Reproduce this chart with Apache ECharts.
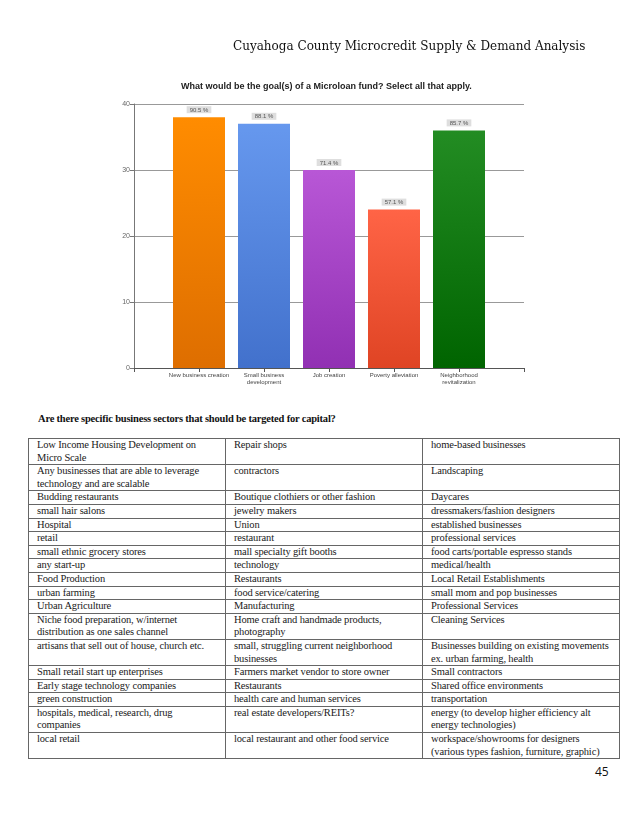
<!DOCTYPE html>
<html>
<head>
<meta charset="utf-8">
<script src="https://cdn.jsdelivr.net/npm/echarts@6/dist/echarts.min.js"></script>
<style>
  html, body { margin: 0; padding: 0; background: #fff; }
  body { width: 638px; height: 826px; position: relative; overflow: hidden; }
  #header { position: absolute; z-index: 5; left: 233px; top: 39px; font-family: 'DejaVu Serif', serif; font-size: 12px; color: #111; white-space: nowrap; }
  #chart { position: absolute; z-index: 1; left: 0; top: 0; width: 638px; height: 400px; }
  #question { position: absolute; z-index: 5; left: 38px; top: 413px; font-family: 'Liberation Serif', serif; font-weight: bold; font-size: 10.5px; letter-spacing: -0.2px; color: #111; white-space: nowrap; }
  #tbl { position: absolute; z-index: 5; left: 28px; top: 438px; width: 591px; border-collapse: collapse; table-layout: fixed;
         font-family: 'Liberation Serif', serif; font-size: 10.5px; letter-spacing: -0.15px; line-height: 12.6px; color: #1a1a1a; }
  #tbl td { border: 1px solid #666; padding: 0 0 0 8px; vertical-align: top; white-space: nowrap; overflow: hidden; }
  #page { position: absolute; z-index: 5; left: 595px; top: 763px; font-family: 'Open Sans', 'Liberation Sans', sans-serif; font-size: 12px; color: #111; }
</style>
</head>
<body>
<div id="chart"></div>
<div id="header">Cuyahoga County Microcredit Supply &amp; Demand Analysis</div>
<div id="question">Are there specific business sectors that should be targeted for capital?</div>
<table id="tbl"><colgroup><col style="width:197px"><col style="width:197px"><col style="width:197px"></colgroup></table>
<div id="page">45</div>
<script>
// ---- chart data ----
const chartTitle = 'What would be the goal(s) of a Microloan fund? Select all that apply.';
const categories = ['New business creation', 'Small business\ndevelopment', 'Job creation', 'Poverty alleviation', 'Neighborhood\nrevitalization'];
const counts = [38, 37, 30, 24, 36];
const percentLabels = ['90.5 %', '88.1 %', '71.4 %', '57.1 %', '85.7 %'];
const yTicks = [0, 10, 20, 30, 40];

// ---- table data ----
const column1 = ['Low Income Housing Development on\nMicro Scale', 'Any businesses that are able to leverage\ntechnology and are scalable', 'Budding restaurants', 'small hair salons', 'Hospital', 'retail', 'small ethnic grocery stores', 'any start-up', 'Food Production', 'urban farming', 'Urban Agriculture', 'Niche food preparation, w/internet\ndistribution as one sales channel', 'artisans that sell out of house, church etc.', 'Small retail start up enterprises', 'Early stage technology companies', 'green construction', 'hospitals, medical, research, drug\ncompanies', 'local retail'];
const column2 = ['Repair shops', 'contractors', 'Boutique clothiers or other fashion', 'jewelry makers', 'Union', 'restaurant', 'mall specialty gift booths', 'technology', 'Restaurants', 'food service/catering', 'Manufacturing', 'Home craft and handmade products,\nphotography', 'small, struggling current neighborhood\nbusinesses', 'Farmers market vendor to store owner', 'Restaurants', 'health care and human services', 'real estate developers/REITs?', 'local restaurant and other food service'];
const column3 = ['home-based businesses', 'Landscaping', 'Daycares', 'dressmakers/fashion designers', 'established businesses', 'professional services', 'food carts/portable espresso stands', 'medical/health', 'Local Retail Establishments', 'small mom and pop businesses', 'Professional Services', 'Cleaning Services', 'Businesses building on existing movements\nex. urban farming, health', 'Small contractors', 'Shared office environments', 'transportation', 'energy (to develop higher efficiency alt\nenergy technologies)', 'workspace/showrooms for designers\n(various types fashion, furniture, graphic)'];

// build table
const tbl = document.getElementById('tbl');
function esc(s) { return s.replace(/&/g, '&amp;').replace(/</g, '&lt;').replace(/\n/g, '<br>'); }
for (let i = 0; i < column1.length; i++) {
  const tr = document.createElement('tr');
  [column1[i], column2[i], column3[i]].forEach(t => {
    const td = document.createElement('td');
    td.innerHTML = esc(t);
    tr.appendChild(td);
  });
  tbl.appendChild(tr);
}

// colors (top, bottom) per bar
const barColors = [['#FF8C00', '#DE6E00'], ['#6698EE', '#4271CC'], ['#B857D6', '#9130B3'], ['#FF6446', '#DF4424'], ['#238C23', '#006400']];

const paddedCats = [''].concat(categories, ['']);
const barData = [null].concat(counts.map((v, i) => ({
  value: v,
  itemStyle: { color: new echarts.graphic.LinearGradient(0, 0, 0, 1, [
    { offset: 0, color: barColors[i][0] }, { offset: 1, color: barColors[i][1] }]) }
})), [null]);

const chart = echarts.init(document.getElementById('chart'), null, { renderer: 'canvas' });
chart.setOption({
  animation: false,
  backgroundColor: 'transparent',
  title: {
    text: chartTitle, left: 176, top: 77,
    textStyle: { fontFamily: 'Liberation Sans', fontSize: 9, fontWeight: 'bold', color: '#222' }
  },
  grid: { left: 134, top: 104, width: 390, height: 264, containLabel: false },
  xAxis: {
    type: 'category', data: paddedCats, boundaryGap: false,
    axisLine: { lineStyle: { color: '#555', width: 1 } },
    axisTick: { show: true, length: 4, alignWithLabel: true, lineStyle: { color: '#555' } },
    axisLabel: { interval: 0, fontFamily: 'Liberation Sans', fontSize: 6, lineHeight: 7, color: '#444', margin: 4 },
    splitLine: { show: false }
  },
  yAxis: {
    type: 'value', min: yTicks[0], max: yTicks[yTicks.length - 1], interval: 10,
    axisLine: { show: true, lineStyle: { color: '#777' } },
    axisTick: { show: true, length: 4, lineStyle: { color: '#777' } },
    axisLabel: { fontFamily: 'Liberation Sans', fontSize: 7, color: '#666', margin: 4 },
    splitLine: { lineStyle: { color: '#999', width: 1 } }
  },
  series: [{
    type: 'bar', data: barData, barWidth: '80%',
    label: {
      show: true, position: 'top', distance: 4,
      formatter: p => percentLabels[p.dataIndex - 1],
      backgroundColor: '#dedede', padding: [1, 3, 0, 3],
      fontFamily: 'Liberation Sans', fontSize: 6, color: '#555'
    }
  }]
});
</script>
</body>
</html>
